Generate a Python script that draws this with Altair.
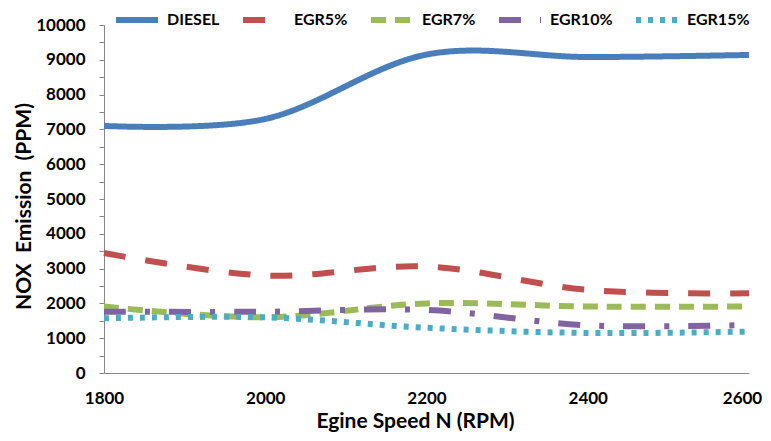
import altair as alt
import pandas as pd

speeds = [1800, 2000, 2200, 2400, 2600]
series = ["DIESEL", "EGR5%", "EGR7%", "EGR10%", "EGR15%"]
diesel = [7100, 7300, 9150, 9080, 9140]
egr5 = [3450, 2800, 3060, 2390, 2290]
egr7 = [1910, 1600, 2000, 1910, 1910]
egr10 = [1760, 1760, 1810, 1370, 1380]
egr15 = [1570, 1600, 1300, 1150, 1190]

colors = ["#4A7EBB", "#C0504D", "#9BBB59", "#8064A2", "#4BACC6"]
dashes = [[1, 0], [22, 20], [15, 9], [22, 19, 5, 19], [5, 7]]

rows = []
for name, vals in zip(series, [diesel, egr5, egr7, egr10, egr15]):
    for s, v in zip(speeds, vals):
        rows.append({"series": name, "speed": s, "nox": v})
df = pd.DataFrame(rows)

legend = alt.Legend(
    title=None, orient="none", legendX=9, legendY=-29, direction="horizontal",
    symbolType="stroke", symbolSize=1764, symbolStrokeWidth=6,
    labelFontSize=16, labelFontWeight="bold", labelColor="#000000",
    columnPadding=11, labelOffset=6, padding=0, gridAlign="none",
)

chart = alt.Chart(df).mark_line(interpolate="cardinal", strokeWidth=6, strokeCap="butt").encode(
    x=alt.X("speed:Q", scale=alt.Scale(domain=[1800, 2600], nice=False, zero=False),
            axis=alt.Axis(values=speeds, format="d", ticks=False, labelPadding=17,
                          labelOffset=alt.condition("datum.value == 2600", alt.value(-7), alt.value(0)),
                          title="Egine Speed N (RPM)", titlePadding=4, titleX=311,
                          labelFlush=False)),
    y=alt.Y("nox:Q", scale=alt.Scale(domain=[0, 10000], nice=False),
            axis=alt.Axis(values=list(range(0, 10001, 500)), format="d",
                          labelExpr="datum.value % 1000 == 0 ? datum.label : ''",
                          tickSize=5, labelPadding=14,
                          title="NOX\u00a0 Emission\u00a0 (PPM)", titlePadding=1, titleY=181)),
    color=alt.Color("series:N", scale=alt.Scale(domain=series, range=colors), legend=legend),
    strokeDash=alt.StrokeDash("series:N", scale=alt.Scale(domain=series, range=dashes), legend=legend),
).properties(
    width=645, height=348,
    autosize=alt.AutoSizeParams(type="none"),
    padding={"left": 96, "top": 17, "right": 14, "bottom": 60},
).configure(
    font="Lato",
).configure_view(
    stroke=None,
).configure_axis(
    grid=False, domainColor="#868686", tickColor="#868686", domainWidth=1,
    labelFontSize=17, labelFontWeight="bold", labelColor="#000000",
    titleFontSize=21, titleFontWeight="bold", titleColor="#000000",
)

chart.save("out.html", embed_options={"renderer": "svg", "actions": False})
